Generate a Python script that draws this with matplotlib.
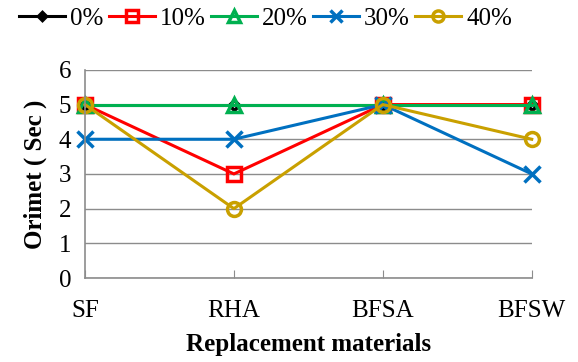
import matplotlib.pyplot as plt

plt.rcParams['font.family'] = ['Liberation Serif', 'DejaVu Serif']

materials = ['SF', 'RHA', 'BFSA', 'BFSW']
levels = ['0%', '10%', '20%', '30%', '40%']
orimet = {
    '0%': [5, 5, 5, 5],
    '10%': [5, 3, 5, 5],
    '20%': [5, 5, 5, 5],
    '30%': [4, 4, 5, 3],
    '40%': [5, 2, 5, 4],
}
colors = ['black', '#FF0000', '#00B050', '#0070C0', '#C9A000']
markers = ['D', 's', '^', 'x', 'o']
msizes = [5, 10, 10, 11, 10]

fig = plt.figure(figsize=(5.78, 3.62), dpi=100)
ax = fig.add_axes([0.147, 0.232, 0.773, 0.575])

x = range(len(materials))
for lev, c, m, ms in zip(levels, colors, markers, msizes):
    ax.plot(x, orimet[lev], color=c, marker=m, markersize=ms, linewidth=2.2,
            markerfacecolor='none', markeredgewidth=2.5, label=lev, clip_on=False)

ax.set_xlim(0, 3)
ax.set_ylim(0, 6)
ax.set_yticks(range(7))
ax.set_xticks(list(x))
ax.set_xticklabels(materials)
ax.grid(axis='y', color='#8C8C8C', linewidth=1)
ax.set_axisbelow(True)
for s in ['top', 'right']:
    ax.spines[s].set_visible(False)
for s in ['left', 'bottom']:
    ax.spines[s].set_color('#8C8C8C')
    ax.spines[s].set_linewidth(1.2)
ax.tick_params(axis='y', length=0, labelsize=18, pad=10)
ax.tick_params(axis='x', direction='in', length=6, color='#8C8C8C', labelsize=18, pad=16)

ax.set_xlabel('Replacement materials', fontsize=18, fontweight='bold', labelpad=8)
ax.set_ylabel('Orimet ( Sec )', fontsize=18, fontweight='bold', labelpad=8)

# legend row across the top
ax.legend(loc='upper left', bbox_to_anchor=(0.02, 1.0, 0, 0), bbox_transform=fig.transFigure,
          ncol=5, frameon=False, fontsize=18, handlelength=1.85, handletextpad=0.2,
          columnspacing=0.2, borderaxespad=0.1, borderpad=0.2, markerscale=0.8)

fig.savefig('out.png', dpi=100)
